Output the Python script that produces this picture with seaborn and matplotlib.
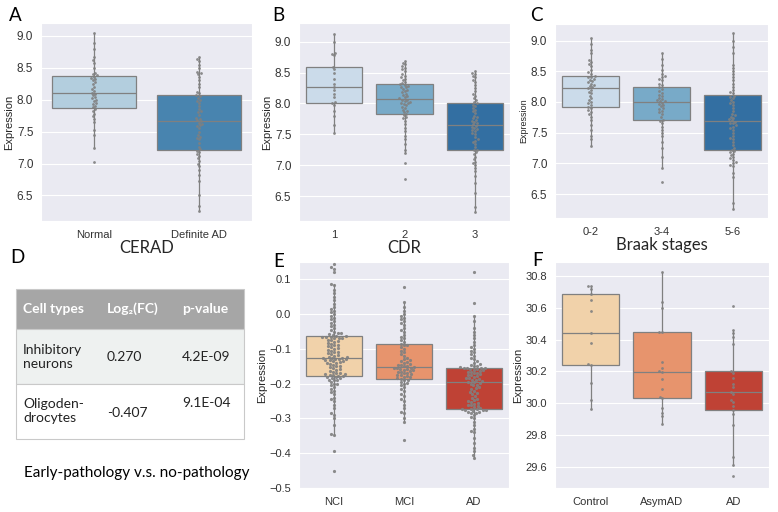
import matplotlib
matplotlib.use("Agg")
import matplotlib.pyplot as plt
from matplotlib.patches import Rectangle
import pandas as pd
import seaborn as sb

sb.set_style("darkgrid")
plt.rcParams['font.family'] = ['Liberation Sans', 'DejaVu Sans']
LABEL_FONT = ['Lato', 'DejaVu Sans']

# ---- data ----
cerad_groups = ["Normal", "Definite AD"]
cerad_normal = [7.02, 7.25, 7.45, 7.52, 7.65, 7.70, 7.74, 7.78, 7.82, 7.85,
                7.88, 7.90, 7.93, 7.95, 7.98, 8.00, 8.02, 8.04, 8.07, 8.09,
                8.11, 8.13, 8.16, 8.20, 8.24, 8.27, 8.30, 8.32, 8.34, 8.36,
                8.38, 8.40, 8.42, 8.50, 8.58, 8.62, 8.66, 8.80, 8.88, 9.05]
cerad_ad = [6.25, 6.33, 6.50, 6.72, 6.82, 6.90, 6.96, 7.00, 7.04, 7.08, 7.12, 7.15, 7.18, 7.20,
            7.22, 7.26, 7.32, 7.38, 7.40, 7.42, 7.45, 7.50, 7.55, 7.58, 7.60, 7.62, 7.64, 7.66,
            7.68, 7.70, 7.72, 7.76, 7.80, 7.82, 7.85, 7.90, 7.95, 7.98, 8.00, 8.03, 8.05, 8.07,
            8.10, 8.12, 8.20, 8.25, 8.30, 8.36, 8.40, 8.42, 8.44, 8.50, 8.55, 8.60, 8.63, 8.67]

cdr_groups = ["1", "2", "3"]
cdr_1 = [7.52, 7.65, 7.80, 7.88, 7.98, 8.01, 8.03, 8.10, 8.15, 8.22, 8.27,
         8.32, 8.40, 8.50, 8.55, 8.59, 8.78, 8.80, 8.82, 9.00, 9.12]
cdr_2 = [6.78, 7.03, 7.20, 7.25, 7.35, 7.42, 7.48, 7.55, 7.60, 7.66, 7.72, 7.76, 7.78, 7.81,
         7.83, 7.86, 7.88, 7.90, 7.93, 7.95, 7.97, 7.99, 8.00, 8.01, 8.02, 8.04, 8.05, 8.06,
         8.08, 8.10, 8.12, 8.14, 8.16, 8.18, 8.20, 8.22, 8.24, 8.26, 8.27, 8.28, 8.30, 8.31,
         8.33, 8.35, 8.38, 8.40, 8.42, 8.45, 8.48, 8.52, 8.55, 8.58, 8.61, 8.63, 8.66, 8.69]
cdr_3 = [6.25, 6.33, 6.55, 6.72, 6.82, 6.90, 6.95, 7.00, 7.03, 7.06, 7.10, 7.14, 7.18, 7.21, 7.24,
         7.25, 7.30, 7.35, 7.38, 7.40, 7.42, 7.45, 7.50, 7.52, 7.55, 7.57, 7.58, 7.60, 7.62, 7.64,
         7.66, 7.68, 7.70, 7.72, 7.74, 7.76, 7.78, 7.80, 7.85, 7.88, 7.90, 7.93, 7.96, 7.98, 8.00,
         8.02, 8.05, 8.08, 8.12, 8.15, 8.20, 8.25, 8.30, 8.35, 8.38, 8.42, 8.45, 8.48, 8.50, 8.53]

braak_groups = ["0-2", "3-4", "5-6"]
braak_02 = [7.28, 7.40, 7.45, 7.55, 7.62, 7.70, 7.76, 7.80, 7.84, 7.87, 7.90,
            7.92, 7.95, 7.98, 8.00, 8.03, 8.06, 8.10, 8.14, 8.17, 8.20, 8.22,
            8.24, 8.26, 8.28, 8.30, 8.32, 8.34, 8.36, 8.38, 8.40, 8.41, 8.42,
            8.46, 8.48, 8.52, 8.58, 8.62, 8.65, 8.68, 8.80, 8.85, 8.95, 9.05]
braak_34 = [6.70, 6.93, 7.10, 7.25, 7.35, 7.45, 7.50, 7.55, 7.60, 7.65, 7.69,
            7.71, 7.75, 7.80, 7.83, 7.86, 7.88, 7.90, 7.93, 7.95, 7.97, 7.99,
            8.01, 8.02, 8.03, 8.05, 8.07, 8.10, 8.12, 8.15, 8.18, 8.21, 8.24,
            8.28, 8.30, 8.35, 8.38, 8.40, 8.42, 8.45, 8.52, 8.60, 8.70, 8.80]
braak_56 = [6.25, 6.35, 6.78, 6.85, 6.95, 6.98, 7.00, 7.02, 7.05, 7.08, 7.10, 7.13, 7.16, 7.18, 7.20,
            7.22, 7.25, 7.30, 7.35, 7.40, 7.42, 7.45, 7.50, 7.55, 7.58, 7.60, 7.62, 7.65, 7.66, 7.68,
            7.70, 7.72, 7.74, 7.76, 7.78, 7.80, 7.85, 7.90, 7.95, 7.98, 8.00, 8.03, 8.06, 8.08, 8.10,
            8.14, 8.16, 8.20, 8.25, 8.30, 8.35, 8.40, 8.45, 8.50, 8.55, 8.60, 8.80, 8.90, 9.00, 9.12]

dx_groups = ["NCI", "MCI", "AD"]
dx_nci = [-0.452, -0.395, -0.347, -0.345, -0.32, -0.30, -0.29, -0.285, -0.27, -0.26,
          -0.25, -0.245, -0.24, -0.23, -0.225, -0.22, -0.215, -0.21, -0.205, -0.20,
          -0.20, -0.195, -0.19, -0.19, -0.188, -0.185, -0.183, -0.182, -0.18, -0.179,
          -0.177, -0.175, -0.175, -0.173, -0.172, -0.17, -0.168, -0.165, -0.163, -0.16,
          -0.158, -0.155, -0.153, -0.15, -0.148, -0.145, -0.143, -0.14, -0.14, -0.138,
          -0.136, -0.135, -0.133, -0.132, -0.13, -0.13, -0.128, -0.127, -0.126, -0.126,
          -0.124, -0.122, -0.12, -0.118, -0.115, -0.113, -0.11, -0.108, -0.105, -0.103,
          -0.10, -0.098, -0.095, -0.093, -0.09, -0.088, -0.085, -0.083, -0.08, -0.078,
          -0.075, -0.073, -0.07, -0.07, -0.068, -0.067, -0.066, -0.065, -0.064, -0.063,
          -0.06, -0.058, -0.055, -0.055, -0.05, -0.045, -0.04, -0.035, -0.03, -0.025,
          -0.02, -0.015, -0.01, -0.005, 0.0, 0.005, 0.01, 0.015, 0.02, 0.03,
          0.04, 0.05, 0.06, 0.07, 0.085, 0.088, 0.12, 0.13, 0.135, 0.145]
dx_mci = [-0.361, -0.311, -0.30, -0.285, -0.28, -0.27, -0.26, -0.25, -0.245, -0.235,
          -0.23, -0.22, -0.215, -0.21, -0.205, -0.20, -0.197, -0.195, -0.19, -0.188,
          -0.186, -0.184, -0.182, -0.18, -0.178, -0.176, -0.175, -0.173, -0.17, -0.168,
          -0.166, -0.165, -0.163, -0.162, -0.16, -0.158, -0.157, -0.156, -0.155, -0.154,
          -0.152, -0.15, -0.148, -0.146, -0.145, -0.143, -0.14, -0.138, -0.135, -0.132,
          -0.13, -0.125, -0.12, -0.115, -0.11, -0.105, -0.10, -0.095, -0.09, -0.088,
          -0.085, -0.08, -0.075, -0.07, -0.065, -0.06, -0.05, -0.045, -0.04, -0.03,
          -0.025, -0.02, -0.015, -0.01, -0.005, 0.0, 0.01, 0.02, 0.035, 0.078]
dx_ad = [-0.414, -0.405, -0.395, -0.385, -0.37, -0.355, -0.34, -0.335, -0.33, -0.32,
         -0.31, -0.30, -0.295, -0.29, -0.285, -0.283, -0.28, -0.28, -0.278, -0.277,
         -0.276, -0.275, -0.274, -0.273, -0.273,
         -0.271, -0.268, -0.265, -0.262, -0.26, -0.258, -0.255, -0.253, -0.25, -0.248,
         -0.245, -0.24, -0.235, -0.23, -0.228, -0.225, -0.22, -0.215, -0.212, -0.21,
         -0.205, -0.203, -0.2, -0.198, -0.196,
         -0.194, -0.192, -0.19, -0.188, -0.186, -0.185, -0.183, -0.18, -0.178, -0.176,
         -0.175, -0.173, -0.17, -0.168, -0.166, -0.165, -0.163, -0.162, -0.16, -0.158,
         -0.157, -0.156, -0.155, -0.154, -0.154,
         -0.152, -0.15, -0.148, -0.145, -0.143, -0.14, -0.135, -0.13, -0.125, -0.12,
         -0.115, -0.11, -0.105, -0.10, -0.095, -0.09, -0.08, -0.07, -0.06, -0.05,
         -0.04, -0.02, -0.006, 0.033, 0.122]

stage_groups = ["Control", "AsymAD", "AD"]
stage_control = [29.96, 30.02, 30.13, 30.24, 30.25, 30.38, 30.44,
                 30.58, 30.65, 30.69, 30.72, 30.74, 30.74]
stage_asym = [29.87, 29.92, 29.94, 29.97, 30.03, 30.04, 30.09, 30.15, 30.195,
              30.20, 30.22, 30.26, 30.45, 30.45, 30.60, 30.64, 30.83]
stage_ad = [29.54, 29.61, 29.66, 29.86, 29.93, 29.955, 29.98, 30.01, 30.02, 30.06, 30.07,
            30.10, 30.12, 30.16, 30.19, 30.20, 30.37, 30.42, 30.44, 30.46, 30.61]

table_cols = ["Cell types", "Log\u2082(FC)", "p-value"]
table_cells = ["Inhibitory\nneurons", "Oligoden-\ndrocytes"]
table_fc = ["0.270", "-0.407"]
table_p = ["4.2E-09", "9.1E-04"]


def make_df(groups, values):
    rows = [(g, v) for g, vals in zip(groups, values) for v in vals]
    return pd.DataFrame(rows, columns=["group", "Expression"])


def panel(fig, rect, groups, values, palette, ylim, yticks,
          ylabel_size=8, xlabel=None, ytick_size=8.5, dot=2.0):
    ax = fig.add_axes(rect)
    df = make_df(groups, values)
    sb.boxplot(data=df, x="group", y="Expression", hue="group", order=groups,
               palette=palette, showfliers=False, linecolor="0.5",
               linewidth=0.9, legend=False, ax=ax,
               capprops={"visible": False})
    sb.swarmplot(data=df, x="group", y="Expression", order=groups,
                 color="0.5", size=dot, linewidth=0, alpha=0.9,
                 warn_thresh=1, ax=ax)
    ax.set_ylim(*ylim)
    ax.set_yticks(yticks)
    ax.tick_params(axis="y", labelsize=ytick_size, pad=2, colors="0.2")
    ax.tick_params(axis="x", labelsize=8, pad=3, colors="0.2")
    ax.set_ylabel("Expression", fontsize=ylabel_size, labelpad=2)
    if xlabel:
        ax.set_xlabel(xlabel, fontsize=12, family=LABEL_FONT, labelpad=0)
    else:
        ax.set_xlabel("")
    return ax


W, H = 778, 512
fig = plt.figure(figsize=(W / 100, H / 100), dpi=100)


def box(l, t, r, b):
    return [l / W, 1 - b / H, (r - l) / W, (b - t) / H]


panel(fig, box(41, 23, 252, 221), cerad_groups, [cerad_normal, cerad_ad],
      sb.color_palette("Blues", 2), (6.1, 9.2), [6.5, 7.0, 7.5, 8.0, 8.5, 9.0],
      xlabel="CERAD")
panel(fig, box(299, 23, 510, 221), cdr_groups, [cdr_1, cdr_2, cdr_3],
      sb.color_palette("Blues", 3), (6.1, 9.3), [6.5, 7.0, 7.5, 8.0, 8.5, 9.0],
      xlabel="CDR")
panel(fig, box(555, 24, 768, 218), braak_groups, [braak_02, braak_34, braak_56],
      sb.color_palette("Blues", 3), (6.11, 9.27), [6.5, 7.0, 7.5, 8.0, 8.5, 9.0],
      ylabel_size=6.5, xlabel="Braak stages")
panel(fig, box(299, 262, 509, 488), dx_groups, [dx_nci, dx_mci, dx_ad],
      sb.color_palette("OrRd", 3), (-0.5, 0.15),
      [-0.5, -0.4, -0.3, -0.2, -0.1, 0.0, 0.1], ytick_size=8, dot=2.3)
panel(fig, box(555, 262, 769, 488), stage_groups, [stage_control, stage_asym, stage_ad],
      sb.color_palette("OrRd", 3), (29.465, 30.89),
      [29.6, 29.8, 30.0, 30.2, 30.4, 30.6, 30.8], ytick_size=8)

# panel letters
for letter, (px, py) in zip("ABCDEF", [(9, 7), (272, 7), (530, 7),
                                       (10, 249), (273, 253), (532, 252)]):
    fig.text(px / W, 1 - py / H, letter, fontsize=13.5, family=LABEL_FONT,
             va="top", ha="left", color="black")

# ---- table D ----
axd = fig.add_axes([0, 0, 260 / W, 272 / H])
axd.set_xlim(0, 260)
axd.set_ylim(512, 240)
axd.axis("off")
row_edges = [289, 329, 384, 439]
row_fill = ["#a6a6a6", "#eef1f0", "white"]
for (top, bot), fc in zip(zip(row_edges[:-1], row_edges[1:]), row_fill):
    axd.add_patch(Rectangle((16, top), 228, bot - top, facecolor=fc,
                            edgecolor="#c9c9c9", linewidth=0.8))
col_x = [23, 107, 182]
for x, txt in zip(col_x, table_cols):
    axd.text(x, 309, txt, color="white", fontweight="bold", fontsize=10,
             family=LABEL_FONT, va="center", ha="left")
row_y = [357, 411]
p_y = [357, 403]
fc_y = [357, 413]
for i in range(2):
    axd.text(col_x[0], row_y[i], table_cells[i], fontsize=10, family=LABEL_FONT,
             va="center", ha="left", color="#222222", linespacing=1.2)
    axd.text(col_x[1], fc_y[i], table_fc[i], fontsize=10, family=LABEL_FONT,
             va="center", ha="left", color="#222222")
    axd.text(col_x[2], p_y[i], table_p[i], fontsize=10, family=LABEL_FONT,
             va="center", ha="left", color="#222222")
axd.text(137, 473, "Early-pathology v.s. no-pathology", fontsize=11,
         family=LABEL_FONT, va="center", ha="center", color="black")

fig.savefig("out.png", dpi=100)
